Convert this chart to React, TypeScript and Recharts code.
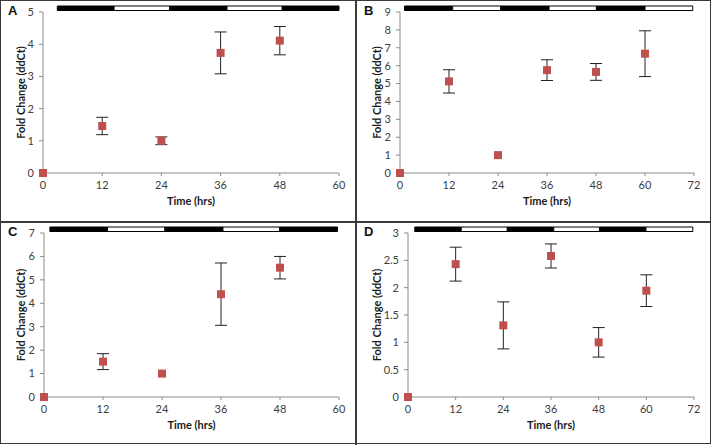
import React from "react";
import {
  ScatterChart,
  Scatter,
  XAxis,
  YAxis,
  ErrorBar,
  ReferenceArea,
} from "recharts";

// time points, fold change and error (half range) per panel
const A_TIME = [0, 12, 24, 36, 48];
const A_FOLD = [0, 1.46, 1.0, 3.73, 4.11];
const A_ERR = [0, 0.27, 0.12, 0.65, 0.44];

const B_TIME = [0, 12, 24, 36, 48, 60];
const B_FOLD = [0, 5.12, 1.0, 5.75, 5.65, 6.67];
const B_ERR = [0, 0.65, 0, 0.58, 0.47, 1.28];

const C_TIME = [0, 12, 24, 36, 48];
const C_FOLD = [0, 1.51, 1.0, 4.39, 5.52];
const C_ERR = [0, 0.34, 0, 1.33, 0.48];

const D_TIME = [0, 12, 24, 36, 48, 60];
const D_FOLD = [0, 2.43, 1.31, 2.58, 1.0, 1.945];
const D_ERR = [0, 0.31, 0.43, 0.22, 0.27, 0.29];

// light/dark bar edges (hours); segments alternate dark, light
const A_BAR = [2.9, 14.4, 25.7, 37.3, 48.5, 60];
const B_BAR = [1.1, 12.9, 24.7, 36.5, 48.1, 60, 71.7];
const C_BAR = [1.2, 12.9, 24.6, 36.4, 47.9, 59.7];
const D_BAR = [1.7, 13.4, 25, 36.7, 48.2, 59.9, 71.7];

const X_TICKS_60 = [0, 12, 24, 36, 48, 60];
const X_TICKS_72 = [0, 12, 24, 36, 48, 60, 72];
const A_Y_TICKS = [0, 1, 2, 3, 4, 5];
const B_Y_TICKS = [0, 1, 2, 3, 4, 5, 6, 7, 8, 9];
const C_Y_TICKS = [0, 1, 2, 3, 4, 5, 6, 7];
const D_Y_TICKS = [0, 0.5, 1, 1.5, 2, 2.5, 3];

const W = 356;
const H = 222;
const AXIS = "#8a8a8a";
const RED = "#c0504d";
const TICK = { fill: "#404040", fontSize: 11, fontFamily: "Lato" };
const TITLE = { fill: "#1a1a1a", fontSize: 11, fontWeight: 700, fontFamily: "Lato" };

type PanelProps = {
  letter: string;
  left: number;
  top: number;
  time: number[];
  fold: number[];
  err: number[];
  bar: number[];
  xTicks: number[];
  yTicks: number[];
  plotLeft: number;
  plotRight: number;
  plotTop: number;
  plotBottom: number;
  letterTop: number;
};

function Panel(p: PanelProps) {
  const data = p.time.map((t, i) => ({ t, v: p.fold[i], e: p.err[i] }));
  const xMax = p.xTicks[p.xTicks.length - 1];
  const yMax = p.yTicks[p.yTicks.length - 1];
  const plotH = p.plotBottom - p.plotTop;
  const perPx = yMax / plotH;
  const xAxisH = 32;
  return (
    <div style={{ position: "absolute", left: p.left, top: p.top, width: W, height: H }}>
      <div
        style={{
          position: "absolute",
          left: 8,
          top: p.letterTop,
          fontFamily: "Liberation Sans",
          fontWeight: 700,
          fontSize: 13,
          lineHeight: "13px",
          color: "#111",
        }}
      >
        {p.letter}
      </div>
      <ScatterChart
        width={W}
        height={H}
        margin={{
          left: 0,
          right: W - p.plotRight,
          top: p.plotTop,
          bottom: H - p.plotBottom - xAxisH,
        }}
      >
        <XAxis
          type="number"
          dataKey="t"
          domain={[0, xMax]}
          ticks={p.xTicks}
          height={xAxisH}
          stroke={AXIS}
          tickSize={3}
          tickMargin={5}
          tick={TICK}
          label={{ value: "Time (hrs)", position: "insideBottom", offset: 0, style: TITLE }}
        />
        <YAxis
          type="number"
          dataKey="v"
          domain={[0, yMax]}
          ticks={p.yTicks}
          width={p.plotLeft}
          stroke={AXIS}
          tickSize={4}
          tickMargin={5}
          tick={TICK}
          label={{
            value: "Fold Change (ddCt)",
            angle: -90,
            position: "insideLeft",
            offset: 21,
            style: { ...TITLE, textAnchor: "middle" },
          }}
        />
        {p.bar.slice(0, -1).map((x1, i) => (
          <ReferenceArea
            key={i}
            x1={x1}
            x2={p.bar[i + 1]}
            y1={yMax + 1.5 * perPx}
            y2={yMax + 6 * perPx}
            ifOverflow="visible"
            fill={i % 2 === 0 ? "#000" : "#fff"}
            fillOpacity={1}
            stroke="#000"
            strokeWidth={1}
          />
        ))}
        <Scatter data={data} shape="square" fill={RED} isAnimationActive={false}>
          <ErrorBar dataKey="e" direction="y" width={6} stroke="#222" strokeWidth={1} />
        </Scatter>
      </ScatterChart>
    </div>
  );
}

export default function App() {
  return (
    <div
      style={{
        position: "absolute",
        left: 0,
        top: 0,
        width: 712,
        height: 446,
        background: "#fff",
        overflow: "hidden",
      }}
    >
      <Panel
        letter="A"
        left={0}
        top={0}
        time={A_TIME}
        fold={A_FOLD}
        err={A_ERR}
        bar={A_BAR}
        xTicks={X_TICKS_60}
        yTicks={A_Y_TICKS}
        plotLeft={43}
        plotRight={339}
        plotTop={12}
        plotBottom={173}
        letterTop={4}
      />
      <Panel
        letter="B"
        left={356}
        top={0}
        time={B_TIME}
        fold={B_FOLD}
        err={B_ERR}
        bar={B_BAR}
        xTicks={X_TICKS_72}
        yTicks={B_Y_TICKS}
        plotLeft={44}
        plotRight={338}
        plotTop={12}
        plotBottom={173}
        letterTop={4}
      />
      <Panel
        letter="C"
        left={0}
        top={222}
        time={C_TIME}
        fold={C_FOLD}
        err={C_ERR}
        bar={C_BAR}
        xTicks={X_TICKS_60}
        yTicks={C_Y_TICKS}
        plotLeft={44}
        plotRight={339}
        plotTop={11}
        plotBottom={175}
        letterTop={3}
      />
      <Panel
        letter="D"
        left={356}
        top={222}
        time={D_TIME}
        fold={D_FOLD}
        err={D_ERR}
        bar={D_BAR}
        xTicks={X_TICKS_72}
        yTicks={D_Y_TICKS}
        plotLeft={52}
        plotRight={338}
        plotTop={11}
        plotBottom={175}
        letterTop={3}
      />
      {/* frame and dividers */}
      <div style={{ position: "absolute", left: 0, top: 0, width: 709, height: 442, border: "1.5px solid #3a3a3a" }} />
      <div style={{ position: "absolute", left: 355, top: 0, width: 1.5, height: 445, background: "#3a3a3a" }} />
      <div style={{ position: "absolute", left: 0, top: 221, width: 711, height: 1.5, background: "#3a3a3a" }} />
    </div>
  );
}
